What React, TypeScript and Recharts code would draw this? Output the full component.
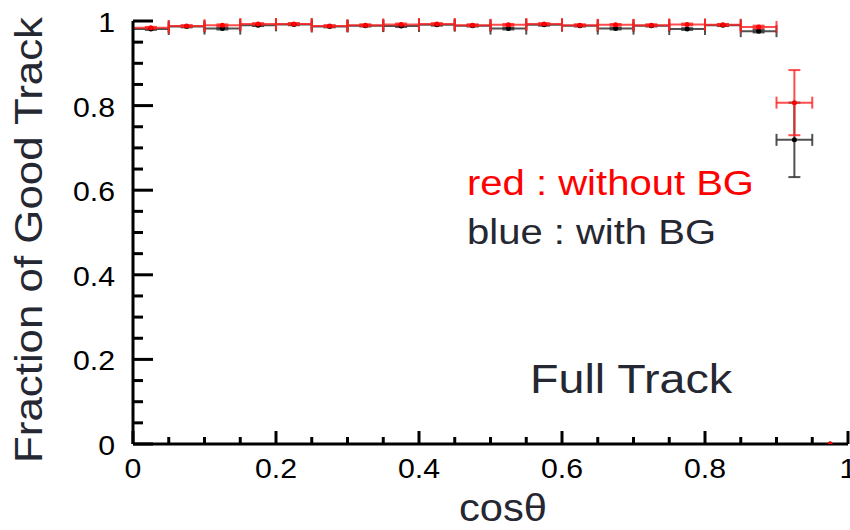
import React from 'react';
import { ScatterChart, Scatter, XAxis, YAxis, ErrorBar, Customized } from 'recharts';

// ---- data ----
const binCenters = [0.025, 0.075, 0.125, 0.175, 0.225, 0.275, 0.325, 0.375, 0.425, 0.475,
  0.525, 0.575, 0.625, 0.675, 0.725, 0.775, 0.825, 0.875, 0.925];
const redFraction = [0.984, 0.988, 0.990, 0.993, 0.993, 0.988, 0.990, 0.992, 0.993, 0.990,
  0.991, 0.993, 0.990, 0.991, 0.990, 0.992, 0.991, 0.986, 0.807];
const redErrY = [0.002, 0.002, 0.002, 0.002, 0.002, 0.002, 0.002, 0.002, 0.002, 0.002,
  0.002, 0.002, 0.002, 0.002, 0.002, 0.002, 0.002, 0.003, 0.077];
const blackFraction = [0.981, 0.987, 0.982, 0.990, 0.992, 0.987, 0.989, 0.988, 0.991, 0.989,
  0.982, 0.991, 0.989, 0.982, 0.989, 0.981, 0.990, 0.976, 0.719];
const blackErrY = [0.002, 0.002, 0.002, 0.002, 0.002, 0.002, 0.002, 0.002, 0.002, 0.002,
  0.002, 0.002, 0.002, 0.002, 0.002, 0.002, 0.002, 0.003, 0.088];
const BIN_HALF_WIDTH = 0.025;
const emptyBinCenters = [0.975];
const emptyBinRed = [0];
const emptyBinBlack = [0];

const axisTicks = [0, 0.05, 0.1, 0.15, 0.2, 0.25, 0.3, 0.35, 0.4, 0.45, 0.5,
  0.55, 0.6, 0.65, 0.7, 0.75, 0.8, 0.85, 0.9, 0.95, 1];
const majorTickLabels = ['0', '0.2', '0.4', '0.6', '0.8', '1'];

const FONT = '"Liberation Sans", Arial, Helvetica, sans-serif';
const TEXT_DARK = '#252732';

const redData = binCenters.map((x, i) => ({ x, y: redFraction[i], ex: BIN_HALF_WIDTH, ey: redErrY[i] }));
const blackData = binCenters.map((x, i) => ({ x, y: blackFraction[i], ex: BIN_HALF_WIDTH, ey: blackErrY[i] }));
const redEmpty = emptyBinCenters.map((x, i) => ({ x, y: emptyBinRed[i] }));
const blackEmpty = emptyBinCenters.map((x, i) => ({ x, y: emptyBinBlack[i] }));

const majorIndex = (v: number) => {
  const k = Math.round(v * 5);
  return Math.abs(v * 5 - k) < 1e-6 ? k : -1;
};

const BottomTick = (props: any) => {
  const { x, y, payload } = props;
  const k = majorIndex(payload.value);
  const len = k >= 0 ? 13 : 7;
  return (
    <g>
      <line x1={x} x2={x} y1={y} y2={y - len} stroke="#000" strokeWidth={3} />
      {k >= 0 && (
        <text transform={`translate(${x},${y + 34}) scale(1.08,1)`} textAnchor="middle"
          fontFamily={FONT} fontSize={28} fill="#000">{majorTickLabels[k]}</text>
      )}
    </g>
  );
};

const TopTick = (props: any) => {
  const { x, y, payload } = props;
  const k = majorIndex(payload.value);
  const len = k >= 0 ? 14 : 7;
  return <line x1={x} x2={x} y1={y} y2={y + len} stroke="#000" strokeWidth={3} />;
};

const LeftTick = (props: any) => {
  const { x, y, payload } = props;
  const k = majorIndex(payload.value);
  const len = k >= 0 ? 20 : 10;
  return (
    <g>
      <line x1={x} x2={x + len} y1={y} y2={y} stroke="#000" strokeWidth={3} />
      {k >= 0 && (
        <text transform={`translate(${x - 18},${y + 11}) scale(1.08,1)`} textAnchor="end"
          fontFamily={FONT} fontSize={28} fill="#000">{majorTickLabels[k]}</text>
      )}
    </g>
  );
};

const RightTick = (props: any) => {
  const { x, y, payload } = props;
  const k = majorIndex(payload.value);
  const len = k >= 0 ? 20 : 10;
  return <line x1={x} x2={x - len} y1={y} y2={y} stroke="#000" strokeWidth={3} />;
};

const dot = (fill: string) => (p: any) => <circle cx={p.cx} cy={p.cy} r={2.5} fill={fill} />;

const Annotations = () => (
  <g fontFamily={FONT}>
    <text x={42} y={240} transform="rotate(-90 42 240)" textAnchor="middle" fontSize={38}
      fill={TEXT_DARK} textLength={446} lengthAdjust="spacingAndGlyphs">Fraction of Good Track</text>
    <text x={503} y={521} textAnchor="middle" fontSize={39} fill={TEXT_DARK}
      textLength={88} lengthAdjust="spacingAndGlyphs">cosθ</text>
    <text x={467} y={195} fontSize={35} fill="#ff0000" textLength={287}
      lengthAdjust="spacingAndGlyphs">red : without BG</text>
    <text x={467} y={244} fontSize={35} fill={TEXT_DARK} textLength={249}
      lengthAdjust="spacingAndGlyphs">blue : with BG</text>
    <text x={530} y={393} fontSize={40} fill={TEXT_DARK} textLength={202}
      lengthAdjust="spacingAndGlyphs">Full Track</text>
  </g>
);

export default function App() {
  const axisLine = { stroke: '#000', strokeWidth: 3 };
  return (
    <div style={{ position: 'absolute', left: 0, top: 0, width: 850, height: 530, background: '#fff' }}>
      <ScatterChart width={850} height={530} margin={{ top: 21, right: 2, bottom: 0, left: 0 }}>
        <XAxis xAxisId={0} type="number" dataKey="x" domain={[0, 1]} ticks={axisTicks} interval={0}
          orientation="bottom" height={86} tickSize={0} tickMargin={0} tickLine={false}
          axisLine={axisLine} tick={<BottomTick />} allowDataOverflow />
        <XAxis xAxisId="top" type="number" dataKey="x" domain={[0, 1]} ticks={axisTicks} interval={0}
          orientation="top" height={0} tickSize={0} tickMargin={0} tickLine={false}
          axisLine={axisLine} tick={<TopTick />} allowDataOverflow />
        <YAxis yAxisId={0} type="number" dataKey="y" domain={[0, 1]} ticks={axisTicks} interval={0}
          orientation="left" width={133} tickSize={0} tickMargin={0} tickLine={false}
          axisLine={axisLine} tick={<LeftTick />} allowDataOverflow />
        <YAxis yAxisId="right" type="number" dataKey="y" domain={[0, 1]} ticks={axisTicks} interval={0}
          orientation="right" width={0} tickSize={0} tickMargin={0} tickLine={false}
          axisLine={axisLine} tick={<RightTick />} allowDataOverflow />

        <Scatter data={blackData} fill="#000" shape={dot('#000')} isAnimationActive={false}>
          <ErrorBar dataKey="ex" direction="x" width={6} stroke="#333" strokeOpacity={0.85} strokeWidth={2} isAnimationActive={false} />
          <ErrorBar dataKey="ey" direction="y" width={6} stroke="#333" strokeOpacity={0.85} strokeWidth={2} isAnimationActive={false} />
        </Scatter>
        <Scatter data={blackEmpty} fill="#000" shape={dot('#000')} isAnimationActive={false} />
        <Scatter data={redData} fill="#ff0000" shape={dot('#ff0000')} isAnimationActive={false}>
          <ErrorBar dataKey="ex" direction="x" width={6} stroke="#ff2020" strokeOpacity={0.8} strokeWidth={2} isAnimationActive={false} />
          <ErrorBar dataKey="ey" direction="y" width={6} stroke="#ff2020" strokeOpacity={0.8} strokeWidth={2} isAnimationActive={false} />
        </Scatter>
        <Scatter data={redEmpty} fill="#ff0000" shape={dot('#ff0000')} isAnimationActive={false} />
        <Customized component={Annotations} />
      </ScatterChart>
    </div>
  );
}
